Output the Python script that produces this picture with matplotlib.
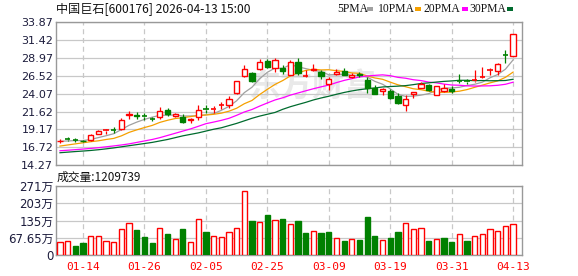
import matplotlib
matplotlib.use('Agg')
import matplotlib.pyplot as plt
from matplotlib.patches import Rectangle
import numpy as np
import pandas as pd

plt.rcParams['font.family'] = ['DejaVu Sans', 'Noto Sans CJK SC']

# trading days shown
dates = ['01-09', '01-12', '01-13', '01-14', '01-15', '01-16', '01-19', '01-20', '01-21', '01-22',
         '01-23', '01-26', '01-27', '01-28', '01-29', '01-30', '02-02', '02-03', '02-04', '02-05',
         '02-06', '02-09', '02-10', '02-11', '02-12', '02-13', '02-24', '02-25', '02-26', '02-27',
         '03-02', '03-03', '03-04', '03-05', '03-06', '03-09', '03-10', '03-11', '03-12', '03-13',
         '03-16', '03-17', '03-18', '03-19', '03-20', '03-23', '03-24', '03-25', '03-26', '03-27',
         '03-30', '03-31', '04-01', '04-02', '04-03', '04-07', '04-08', '04-09', '04-10', '04-13']

open_ = [17.58, 17.84, 17.75, 17.62, 17.72, 18.53, 19.00, 19.15, 19.22, 21.18,
         21.15, 20.98, 20.65, 20.89, 21.80, 21.00, 20.89, 20.40, 20.89, 21.93,
         22.00, 22.45, 22.49, 24.12, 26.44, 26.84, 27.43, 28.48, 27.57, 27.53,
         26.57, 28.38, 26.44, 27.25, 26.98, 25.35, 26.75, 27.16, 26.35, 26.71,
         26.00, 24.84, 24.39, 24.43, 23.71, 22.58, 24.03, 24.84, 25.21, 23.89,
         24.49, 24.76, 25.88, 25.78, 25.86, 26.32, 27.33, 27.16, 29.41, 29.26]
high = [17.89, 18.08, 17.99, 17.76, 18.57, 19.12, 19.26, 19.45, 20.75, 21.63,
        21.53, 21.44, 20.81, 22.21, 22.17, 21.44, 21.26, 20.70, 22.48, 22.48,
        22.39, 22.93, 23.71, 25.85, 27.93, 26.98, 28.75, 28.85, 28.98, 28.03,
        28.71, 28.98, 27.25, 28.17, 27.25, 26.34, 27.50, 27.62, 26.85, 27.00,
        26.34, 25.21, 24.84, 24.76, 24.16, 23.85, 24.30, 25.62, 25.44, 25.10,
        25.44, 25.07, 26.71, 26.12, 27.25, 27.70, 27.62, 28.25, 29.98, 32.25]
low = [17.35, 17.54, 17.44, 17.44, 17.65, 18.50, 18.53, 18.63, 19.08, 20.67,
       20.54, 20.44, 20.35, 20.67, 20.98, 20.81, 20.07, 19.99, 20.40, 21.44,
       21.44, 22.03, 22.17, 24.00, 26.34, 25.60, 27.25, 27.55, 27.02, 26.80,
       26.57, 26.57, 26.40, 27.10, 26.03, 24.53, 26.65, 26.57, 26.20, 26.30,
       24.16, 23.98, 23.85, 23.40, 22.62, 21.71, 23.53, 24.84, 24.39, 23.89,
       24.30, 24.16, 25.53, 25.44, 25.66, 26.26, 26.57, 26.57, 28.25, 29.26]
close = [17.64, 17.79, 17.70, 17.55, 18.36, 18.90, 19.06, 19.10, 20.40, 21.25,
         21.08, 20.92, 20.60, 21.71, 21.26, 21.28, 20.21, 20.62, 21.90, 21.88,
         22.05, 22.50, 23.30, 25.75, 27.43, 25.75, 28.34, 27.70, 28.62, 27.16,
         28.38, 26.84, 26.47, 27.43, 26.44, 26.03, 27.05, 26.62, 26.64, 26.57,
         24.84, 24.08, 24.66, 23.53, 22.80, 23.40, 24.26, 25.35, 24.53, 25.07,
         24.90, 24.39, 25.83, 25.73, 25.91, 26.36, 27.37, 28.07, 29.37, 32.25]
prev_close = 17.50

# volume in 万手
volume = [51, 55, 35, 47, 73, 73, 55, 51, 101, 126,
          98, 71, 47, 105, 83, 62, 102, 51, 140, 90,
          73, 69, 90, 105, 250, 134, 130, 157, 136, 141,
          122, 134, 88, 93, 88, 90, 65, 55, 62, 59,
          149, 75, 59, 67, 90, 126, 101, 105, 55, 62,
          67, 52, 81, 55, 73, 81, 101, 93, 114, 121]
last_volume = 1209739

# moving averages before the window is full
ma5_head = [17.55, 17.60, 17.65, 17.65]
ma10_head = [16.90, 17.05, 17.20, 17.35, 17.50, 17.62, 17.80, 17.95, 18.30]
ma20_head = [16.26, 16.33, 16.41, 16.49, 16.58, 16.68, 16.80, 16.92, 17.05, 17.20,
             17.40, 17.60, 17.80, 18.05, 18.35, 18.65, 18.95, 19.25, 19.60]
ma30_head = [15.99, 16.07, 16.15, 16.22, 16.30, 16.40, 16.52, 16.65, 16.80, 16.95,
             17.10, 17.25, 17.40, 17.60, 17.80, 18.05, 18.30, 18.50, 18.70, 18.95,
             19.20, 19.40, 19.70, 20.00, 20.35, 20.70, 21.00, 21.25, 21.50]

RED = '#ff0000'
GREEN = '#008000'
ma_colors = {'5PMA': '#a0a0a0', '10PMA': '#f5a000', '20PMA': '#ff00ff', '30PMA': '#006b2e'}

cl = pd.Series(close)
def moving(n, head):
    m = cl.rolling(n).mean()
    m.iloc[:n - 1] = head
    return m

mas = {'5PMA': moving(5, ma5_head), '10PMA': moving(10, ma10_head),
       '20PMA': moving(20, ma20_head), '30PMA': moving(30, ma30_head)}

n = len(close)
x = np.arange(n)
tick_idx = list(range(3, n, 8))
tick_lab = [dates[i] for i in tick_idx]

fig = plt.figure(figsize=(5.78, 2.76), dpi=100)
ax = fig.add_axes([56 / 578, 1 - 165.3 / 276, 466 / 578, 143.3 / 276])
axv = fig.add_axes([56 / 578, 1 - 255 / 276, 466 / 578, 69 / 276])

for a in (ax, axv):
    a.set_xlim(-0.52, 60.16)
    for s in a.spines.values():
        s.set_color('#999999')
        s.set_linewidth(1.0)
    a.set_xticks(tick_idx)
    a.grid(axis='x', color='#c8c8c8', linestyle=(0, (4, 3)), linewidth=0.9)
    a.grid(axis='y', color='#c8c8c8', linestyle='-', linewidth=0.9)
    a.set_axisbelow(True)
    a.tick_params(length=0, labelsize=8, colors='#1c1c3c', pad=2)

# price panel
ax.set_ylim(14.27, 33.87)
yt = [14.27 + 2.45 * k for k in range(9)]
ax.set_yticks(yt)
ax.set_yticklabels(['%.2f' % v for v in yt])
ax.set_xticklabels([])

ax.text(0.55, 0.54, '东方财富', transform=ax.transAxes, fontsize=23, color='#e9e9e9',
        fontweight='bold', ha='center', va='center', zorder=0.5, family=['Noto Sans CJK SC'])

for name, m in mas.items():
    ax.plot(x, m, color=ma_colors[name], linewidth=0.9, zorder=2)

w = 0.68
for i in range(n):
    o, h, l, c = open_[i], high[i], low[i], close[i]
    top, bot = max(o, c), min(o, c)
    col = RED if c >= o else GREEN
    ax.vlines(i, top, h, color=col, linewidth=0.9, zorder=3)
    ax.vlines(i, l, bot, color=col, linewidth=0.9, zorder=3)
    if top - bot < 0.06:
        ax.hlines((o + c) / 2, i - w / 2, i + w / 2, color=col, linewidth=1.2, zorder=3)
    else:
        ax.add_patch(Rectangle((i - w / 2, bot), w, top - bot,
                               facecolor='white' if c >= o else GREEN,
                               edgecolor=col, linewidth=1.0, zorder=4))

# volume panel
axv.set_ylim(0, 271)
vt = [0, 67.65, 135, 203, 271]
axv.set_yticks(vt)
axv.set_yticklabels(['0', '67.65万', '135万', '203万', '271万'])
axv.set_xticklabels(tick_lab, color=RED, fontsize=8, family=['DejaVu Sans Mono'])
axv.tick_params(axis='x', pad=5)
axv.tick_params(axis='y', labelsize=8.5)

prevs = [prev_close] + close[:-1]
for i in range(n):
    up = close[i] >= prevs[i]
    axv.add_patch(Rectangle((i - w / 2, 0), w, volume[i],
                            facecolor='white' if up else GREEN,
                            edgecolor=RED if up else GREEN, linewidth=1.0, zorder=3))

# titles and legend
fig.text(56 / 578, 1 - 9 / 276, '中国巨石[600176] 2026-04-13 15:00', va='center', ha='left',
         fontsize=8.7, color='#111111', family=['Noto Sans CJK SC', 'DejaVu Sans'])
fig.text(57 / 578, 1 - 177 / 276, '成交量:%d' % last_volume, va='center', ha='left',
         fontsize=8.5, color='#111111', family=['Noto Sans CJK SC', 'DejaVu Sans'])

leg_x = {'5PMA': (337, 367), '10PMA': (378, 415), '20PMA': (423, 462), '30PMA': (469, 507)}
for name, (tx, mx) in leg_x.items():
    fig.text(tx / 578, 1 - 9 / 276, name, va='center', ha='left', fontsize=8.4,
             color='#111111', family=['Liberation Serif'])
    fig.patches.append(Rectangle((mx / 578, 1 - 11 / 276), 6 / 578, 4 / 276,
                                 transform=fig.transFigure, facecolor=ma_colors[name],
                                 edgecolor='none'))

fig.savefig('out.png', dpi=100)
